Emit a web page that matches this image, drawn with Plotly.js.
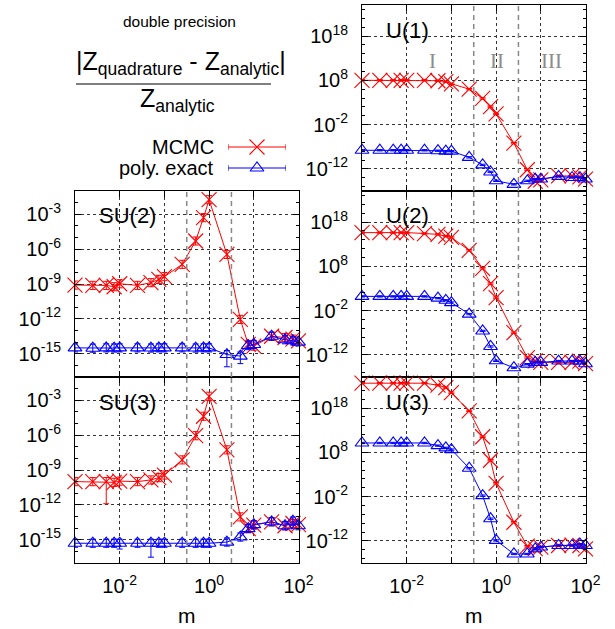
<!DOCTYPE html>
<html>
<head>
<meta charset="utf-8">
<script src="https://cdn.plot.ly/plotly-3.0.1.min.js"></script>
<style>html,body{margin:0;padding:0;background:#fff;}#chart{width:615px;height:629px;}</style>
</head>
<body>
<div id="chart"></div>
<script>
// ---------- data ----------
const mValues = [0.001, 0.0025, 0.005, 0.0075, 0.01, 0.025, 0.05, 0.075, 0.1, 0.25, 0.5, 0.75, 1, 2.5, 5, 7.5, 10, 25, 50, 75, 100];

const u1Mcmc = [1e8, 1e8, 1e8, 1e8, 1e8, 1e8, 7.9e7, 5e7, 1.6e7, 1e6, 7.9e3, 115, 2.5, 6.3e-7, 6.3e-13, 1.6e-15, 3.2e-15, 2.5e-14, 2.5e-14, 1.6e-14, 5e-15];
const u1Poly = [1.6e-8, 1.6e-8, 1.6e-8, 1.6e-8, 1.6e-8, 1.6e-8, 1.26e-8, 1e-8, 1e-8, 4e-10, 7.9e-12, 2e-13, 2e-15, 3.2e-16, 2e-15, 5e-15, 5e-15, 2e-14, 1.1e-14, 1.1e-14, 5e-15];

const u2Mcmc = [4e15, 4e15, 4e15, 4e15, 4e15, 2.5e15, 1.6e15, 6.3e14, 3.2e14, 4e11, 3.5e7, 1.26e4, 8.5, 1e-7, 2.5e-13, 4.5e-14, 2e-14, 2e-14, 2e-14, 4e-14, 1e-14];
const u2Poly = [16, 16, 16, 16, 16, 16, 6.3, 2.1, 0.63, 1.6e-3, 2.5e-7, 7.9e-11, 4.5e-14, 1.26e-15, 7.9e-15, 2e-14, 2e-14, 4e-14, 4e-14, 4e-14, 1e-14];

const u3Mcmc = [4e23, 4e23, 4e23, 4e23, 4e23, 4e23, 1.4e23, 4e22, 2.8e21, 2.2e17, 3.2e11, 1.6e6, 10, 1.6e-8, 6.3e-14, 1.8e-14, 4e-14, 8.9e-14, 1.1e-13, 8.9e-14, 1.6e-14];
const u3Poly = [1.26e10, 1.26e10, 1.26e10, 1.26e10, 1.26e10, 1.26e10, 3.2e9, 1e9, 4e8, 2.5e4, 1.6e-2, 1e-7, 1.26e-12, 1.1e-15, 1.1e-15, 1.6e-14, 4e-14, 8.9e-14, 8.9e-14, 1.8e-13, 8.9e-14];

const su2Mcmc = [8.1e-10, 7.6e-10, 7.6e-10, 5.8e-10, 1.05e-9, 7.6e-10, 1.3e-9, 2.5e-9, 4.3e-9, 4.9e-8, 5.0e-6, 5.1e-4, 1.8e-2, 3.5e-7, 8.9e-13, 6.3e-15, 4.5e-15, 3.2e-14, 2.5e-14, 1.8e-14, 1.26e-14];
const su2Poly = [3.2e-15, 3.0e-15, 3.2e-15, 3.1e-15, 3.2e-15, 3.2e-15, 3.1e-15, 3.2e-15, 3.2e-15, 3.2e-15, 3.1e-15, 3.2e-15, 3.2e-15, 8.5e-16, 6.3e-16, 5.0e-15, 6.3e-15, 3.2e-14, 1.6e-14, 1.3e-14, 1.0e-14];

const su3Mcmc = [1.0e-10, 1.0e-10, 1.0e-10, 8.7e-11, 1.1e-10, 1.0e-10, 1.4e-10, 2.2e-10, 3.7e-10, 7.4e-9, 8.9e-7, 4.2e-5, 2.2e-3, 5.4e-8, 9.3e-14, 9.1e-15, 1.8e-14, 3.5e-14, 1.6e-14, 2.5e-14, 2.0e-14];
const su3Poly = [5.0e-16, 5.0e-16, 5.0e-16, 5.0e-16, 5.0e-16, 5.0e-16, 5.0e-16, 5.0e-16, 5.0e-16, 5.0e-16, 5.0e-16, 5.0e-16, 5.0e-16, 6.3e-16, 1.7e-15, 9.1e-15, 2.0e-14, 3.5e-14, 1.6e-14, 4.0e-14, 1.6e-14];

// error bar half-widths in decades (default) and a few larger lower errors (index -> decades)
const errDecU = 0.15;
const errDecSU = 0.35;
const bigLowErr = {
  u2Poly: {4: 0.6, 8: 1.8},
  su2Poly: {13: 1.05, 14: 0.65},
  su3Mcmc: {2: 1.9},
  su3Poly: {6: 1.2, 4: 0.5}
};

const panelLabels = ['U(1)', 'U(2)', 'U(3)', 'SU(2)', 'SU(3)'];
const regionLabels = ['I', 'II', 'III'];
const regionLabelX = [-1.43, 0.02, 1.23];   // log10 m
const regionBounds = [0.316, 3.16];          // m
const legendNames = ['MCMC', 'poly. exact'];
const xTickVals = [1e-3, 1e-2, 1e-1, 1, 10, 100];
const xTickText = ['', '10<sup>-2</sup>', '', '10<sup>0</sup>', '', '10<sup>2</sup>'];
const uTickVals = [1e-12, 1e-2, 1e8, 1e18];
const uTickText = ['10<sup>-12</sup>', '10<sup>-2</sup>', '10<sup>8</sup>', '10<sup>18</sup>'];
const suTickVals = [1e-15, 1e-12, 1e-9, 1e-6, 1e-3];
const suTickText = ['10<sup>-15</sup>', '10<sup>-12</sup>', '10<sup>-9</sup>', '10<sup>-6</sup>', '10<sup>-3</sup>'];

// ---------- style ----------
const FONT = 'Liberation Sans, Arial, Helvetica, sans-serif';
const RED = '#ff0000', BLUE = '#0000ff';
const W = 615, H = 629;
const px = v => v / W, py = v => 1 - v / H;

function errBars(y, dec, big, color) {
  big = big || {};
  return {
    type: 'data', symmetric: false, visible: true,
    array: y.map(v => v * (Math.pow(10, dec) - 1)),
    arrayminus: y.map((v, i) => v * (1 - Math.pow(10, -(big[i] !== undefined ? big[i] : dec)))),
    color: color, thickness: 1, width: 3
  };
}
function mcmcTrace(y, xa, ya, dec, big) {
  return {x: mValues, y: y, xaxis: xa, yaxis: ya, type: 'scatter', mode: 'lines+markers',
    cliponaxis: false, showlegend: false, name: legendNames[0],
    line: {color: RED, width: 1},
    marker: {symbol: 'x-thin-open', size: 15, color: RED, line: {color: RED, width: 1.1}},
    error_y: errBars(y, dec, big, RED)};
}
function polyTrace(y, xa, ya, dec, big) {
  return {x: mValues, y: y, xaxis: xa, yaxis: ya, type: 'scatter', mode: 'lines+markers',
    cliponaxis: false, showlegend: false, name: legendNames[1],
    line: {color: BLUE, width: 1},
    marker: {symbol: 'triangle-up-open', size: 12, color: BLUE, line: {color: BLUE, width: 1.1}},
    error_y: errBars(y, dec, big, BLUE)};
}

const traces = [
  mcmcTrace(u1Mcmc, 'x', 'y', errDecU), polyTrace(u1Poly, 'x', 'y', errDecU),
  mcmcTrace(u2Mcmc, 'x2', 'y2', errDecU), polyTrace(u2Poly, 'x2', 'y2', errDecU, bigLowErr.u2Poly),
  mcmcTrace(u3Mcmc, 'x3', 'y3', errDecU), polyTrace(u3Poly, 'x3', 'y3', errDecU),
  mcmcTrace(su2Mcmc, 'x4', 'y4', errDecSU), polyTrace(su2Poly, 'x4', 'y4', errDecSU, bigLowErr.su2Poly),
  mcmcTrace(su3Mcmc, 'x5', 'y5', errDecSU, bigLowErr.su3Mcmc), polyTrace(su3Poly, 'x5', 'y5', errDecSU, bigLowErr.su3Poly)
];

// legend samples (key glyphs) on a hidden axis pair
[[RED, 'x-thin-open', 15, 0.8], [BLUE, 'triangle-up-open', 12, 0.2]].forEach(([c, s, sz, yy]) => {
  traces.push({x: [0.5], y: [yy], xaxis: 'x6', yaxis: 'y6', type: 'scatter', mode: 'markers',
    showlegend: false, hoverinfo: 'skip', cliponaxis: false,
    marker: {symbol: s, size: sz, color: c, line: {color: c, width: 1.1}},
    error_x: {type: 'constant', value: 0.5, color: c, thickness: 1, width: 3}});
});

const xL = [px(75), px(298.5)], xR = [px(362), px(585.5)];
const row1 = [py(191), py(5)], row2 = [py(377), py(191)], row3 = [py(563), py(377)];

const baseAx = {
  type: 'log', showline: true, linecolor: '#000', linewidth: 1, mirror: 'allticks',
  ticks: 'inside', ticklen: 6, tickwidth: 1, tickcolor: '#000',
  showgrid: true, gridcolor: '#333', gridwidth: 1, griddash: 'dot', zeroline: false,
  tickfont: {family: FONT, size: 20, color: '#000'}, fixedrange: true
};
function xAx(domain, anchor, labels) {
  return Object.assign({}, baseAx, {domain: domain, anchor: anchor, range: [-3, 2],
    tickmode: 'array', tickvals: xTickVals, ticktext: xTickText, showticklabels: labels, ticklabelstandoff: 5,
    title: labels ? {text: 'm', font: {family: FONT, size: 21, color: '#000'}, standoff: 12} : undefined});
}
function minorVals(from, to, step) { const a = []; for (let e = from; e <= to; e += step) a.push(Math.pow(10, e)); return a; }
function yAxU(domain, anchor) {
  return Object.assign({}, baseAx, {domain: domain, anchor: anchor, range: [-17, 25],
    tickmode: 'array', tickvals: uTickVals, ticktext: uTickText, ticklabelstandoff: 9,
    minor: {tickmode: 'array', tickvals: minorVals(-16, 24, 2), ticks: 'inside', ticklen: 3, tickcolor: '#000', showgrid: false}});
}
function yAxSU(domain, anchor) {
  return Object.assign({}, baseAx, {domain: domain, anchor: anchor, range: [-17, -1],
    tickmode: 'array', tickvals: suTickVals, ticktext: suTickText, ticklabelstandoff: 9,
    minor: {tickmode: 'array', tickvals: minorVals(-17, -1, 1), ticks: 'inside', ticklen: 3, tickcolor: '#000', showgrid: false}});
}

const shapes = [];
['x', 'x2', 'x3', 'x4', 'x5'].forEach((xa, i) => {
  const ya = 'y' + (i === 0 ? '' : (i + 1));
  regionBounds.forEach(b => shapes.push({type: 'line', xref: xa, yref: ya + ' domain', x0: b, x1: b, y0: 0, y1: 1,
    line: {color: '#888', width: 1.5, dash: '5px,4px'}, layer: 'above'}));
});
// fraction bar of the title
shapes.push({type: 'line', xref: 'paper', yref: 'paper', x0: px(76), x1: px(271), y0: py(84), y1: py(84), line: {color: '#555', width: 1.5}});

const annotations = [];
const panelAxes = [['x', 'y'], ['x2', 'y2'], ['x3', 'y3'], ['x4', 'y4'], ['x5', 'y5']];
panelAxes.forEach(([xa, ya], i) => annotations.push({text: panelLabels[i], xref: xa + ' domain', yref: ya + ' domain',
  x: 22 / 223.5, y: 1 - 25 / 186, xanchor: 'left', yanchor: 'middle', showarrow: false,
  font: {family: FONT, size: 22, color: '#000'}}));
regionLabels.forEach((t, i) => annotations.push({text: t, xref: 'x', yref: 'y', x: regionLabelX[i], y: 12.4,
  xanchor: 'center', yanchor: 'middle', showarrow: false, font: {family: 'Liberation Serif, Times New Roman, serif', size: 21, color: '#8c8c8c'}}));
annotations.push({text: 'double precision', xref: 'paper', yref: 'paper', x: px(179), y: py(22), xanchor: 'center', yanchor: 'middle', showarrow: false, font: {family: FONT, size: 15.5, color: '#000'}});
annotations.push({text: '|Z<sub>quadrature</sub> - Z<sub>analytic</sub>|', xref: 'paper', yref: 'paper', x: px(181), y: py(63), xanchor: 'center', yanchor: 'middle', showarrow: false, font: {family: FONT, size: 25, color: '#000'}});
annotations.push({text: 'Z<sub>analytic</sub>', xref: 'paper', yref: 'paper', x: px(177), y: py(100), xanchor: 'center', yanchor: 'middle', showarrow: false, font: {family: FONT, size: 25, color: '#000'}});
annotations.push({text: legendNames[0], xref: 'paper', yref: 'paper', x: px(216), y: py(147), xanchor: 'right', yanchor: 'middle', showarrow: false, font: {family: FONT, size: 20, color: '#000'}});
annotations.push({text: legendNames[1], xref: 'paper', yref: 'paper', x: px(216), y: py(168), xanchor: 'right', yanchor: 'middle', showarrow: false, font: {family: FONT, size: 20, color: '#000'}});

const hiddenAx = {visible: false, showgrid: false, zeroline: false, fixedrange: true, range: [0, 1]};

const layout = {
  width: W, height: H, margin: {l: 0, r: 0, t: 0, b: 0}, showlegend: false,
  paper_bgcolor: '#fff', plot_bgcolor: 'rgba(0,0,0,0)', font: {family: FONT, color: '#000'},
  xaxis: xAx(xR, 'y', false), yaxis: yAxU(row1, 'x'),
  xaxis2: xAx(xR, 'y2', false), yaxis2: yAxU(row2, 'x2'),
  xaxis3: xAx(xR, 'y3', true), yaxis3: yAxU(row3, 'x3'),
  xaxis4: xAx(xL, 'y4', false), yaxis4: yAxSU(row2, 'x4'),
  xaxis5: xAx(xL, 'y5', true), yaxis5: yAxSU(row3, 'x5'),
  xaxis6: Object.assign({}, hiddenAx, {domain: [px(228), px(286)], anchor: 'y6'}),
  yaxis6: Object.assign({}, hiddenAx, {domain: [py(175), py(140)], anchor: 'x6'}),
  shapes: shapes, annotations: annotations
};

Plotly.newPlot('chart', traces, layout, {staticPlot: true, displayModeBar: false});
</script>
</body>
</html>
